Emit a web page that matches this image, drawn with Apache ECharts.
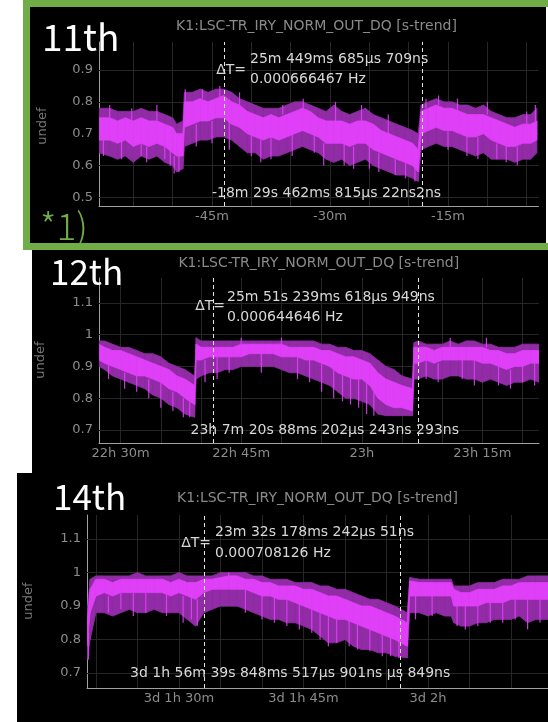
<!DOCTYPE html>
<html><head><meta charset="utf-8">
<script src="https://cdn.jsdelivr.net/npm/echarts@6/dist/echarts.min.js"></script>
<style>html,body{margin:0;padding:0;background:#fff}#c{width:548px;height:722px}</style>
</head><body><div id="c"></div>
<script>
// ---------- Panel 1 (11th): minutes relative to cursor ----------
const p1Time = [-59.36,-58,-57,-56,-55,-54,-53,-52,-51,-50,-49.5,-48.7,-48.5,-47.5,-46.5,-45.5,-44.5,-43.5,-42.5,-41.5,-40.5,-39.5,-38.5,-37.5,-36.5,-35.5,-34.5,-33.5,-32.5,-31.5,-30.5,-29.5,-28.5,-27.5,-26.5,-25.5,-24.5,-23.5,-22.5,-21.5,-20.5,-19.5,-18.8,-18.4,-17.5,-16.5,-15.5,-14.5,-13.5,-12.5,-11.5,-10.5,-9.5,-8.5,-7.5,-6.5,-5.5,-4.5,-3.7];
const p1OuterLo = [.64,.63,.62,.63,.61,.63,.62,.63,.61,.60,.58,.59,.66,.67,.68,.68,.69,.69,.68,.66,.64,.64,.62,.63,.63,.64,.65,.66,.65,.64,.62,.61,.62,.60,.61,.62,.60,.59,.58,.57,.57,.56,.55,.65,.66,.67,.66,.66,.65,.64,.63,.64,.62,.62,.62,.61,.62,.62,.64];
const p1Lo      = [.68,.68,.67,.68,.66,.67,.66,.67,.66,.64,.63,.63,.72,.73,.74,.74,.75,.75,.73,.72,.70,.69,.68,.69,.68,.69,.70,.71,.70,.69,.67,.67,.67,.66,.67,.67,.65,.64,.63,.62,.61,.60,.58,.70,.71,.72,.71,.71,.70,.69,.69,.70,.68,.67,.66,.66,.67,.67,.68];
const p1Hi      = [.75,.75,.74,.75,.74,.75,.74,.74,.73,.72,.70,.70,.80,.80,.81,.80,.81,.82,.80,.79,.77,.76,.75,.76,.75,.76,.77,.78,.77,.75,.74,.74,.74,.73,.74,.74,.73,.71,.70,.69,.68,.67,.65,.77,.78,.79,.78,.78,.77,.76,.76,.76,.75,.74,.73,.72,.73,.73,.74];
const p1OuterHi = [.78,.78,.77,.77,.77,.78,.77,.77,.76,.75,.73,.74,.83,.83,.84,.83,.84,.84,.83,.81,.80,.79,.78,.78,.78,.79,.80,.80,.79,.78,.77,.79,.77,.76,.77,.78,.76,.75,.74,.73,.72,.71,.70,.79,.80,.81,.80,.80,.79,.79,.78,.79,.77,.76,.75,.75,.76,.76,.78];
// spikes: [time, band edge, tip]
const p1Spikes = [[-58.8,.68,.63],[-58,.75,.79],[-56.5,.68,.62],[-55.2,.74,.78],[-54,.67,.63],[-53.3,.66,.61],[-52,.74,.79],[-51,.66,.62],[-50.3,.65,.60],[-49.8,.63,.575],[-49.2,.63,.58],[-48.4,.80,.84],[-47,.73,.66],[-46.2,.81,.84],[-45,.74,.67],[-44,.81,.85],[-42.8,.74,.65],[-41.5,.79,.83],[-40,.70,.63],[-38.8,.68,.61],[-37.5,.69,.62],[-36,.76,.79],[-34.8,.70,.63],[-33.4,.78,.81],[-32,.70,.64],[-30.8,.67,.60],[-29.3,.74,.80],[-28.2,.67,.60],[-27,.66,.59],[-26,.74,.79],[-25,.67,.59],[-23.8,.64,.58],[-22.6,.70,.76],[-21.7,.62,.57],[-20.4,.61,.56],[-19.2,.60,.55],[-17.8,.78,.81],[-16.2,.79,.82],[-15,.71,.65],[-13.8,.77,.81],[-12.6,.69,.63],[-11.2,.69,.62],[-10,.76,.80],[-8.8,.67,.62],[-7.6,.66,.61],[-6.2,.66,.60],[-5,.73,.77],[-3.9,.74,.79]];
const p1XTicks = [-45,-30,-15];
const p1XLabels = ['-45m','-30m','-15m'];
const p1YTicks = [0.5,0.6,0.7,0.8,0.9];
const p1Cursors = [-43.47,-18.31];

// ---------- Panel 2 (12th): minutes after 22h ----------
const p2Time = [27.31,28,29,30,31,32,33,34,35,36,37,38,39.2,39.4,40,41,42,43,44,45,46,47,48,49,50,51,52,53,54,55,56,57,58,59,60,61,62,63,64,65,66.3,66.5,67,68,69,70,71,72,73,74,75,76,77,78,79,80,81,82.04];
const p2OuterLo = [.90,.89,.87,.86,.85,.84,.83,.81,.80,.78,.77,.75,.74,.86,.87,.88,.88,.89,.89,.90,.90,.90,.90,.90,.89,.88,.88,.87,.86,.85,.84,.82,.80,.80,.79,.78,.75,.745,.745,.745,.745,.86,.86,.87,.86,.86,.87,.87,.86,.86,.85,.86,.85,.84,.85,.85,.86,.85];
const p2Lo      = [.92,.91,.90,.89,.88,.87,.87,.86,.85,.83,.82,.80,.78,.92,.92,.93,.93,.93,.93,.93,.94,.94,.94,.94,.93,.93,.93,.92,.92,.91,.90,.88,.87,.86,.86,.84,.80,.78,.77,.77,.76,.91,.91,.92,.91,.92,.92,.92,.92,.92,.91,.91,.90,.89,.90,.90,.91,.91];
const p2Hi      = [.97,.96,.95,.95,.94,.93,.92,.91,.90,.89,.87,.86,.84,.97,.96,.96,.96,.96,.96,.97,.97,.97,.97,.97,.97,.96,.96,.96,.96,.95,.95,.94,.93,.93,.92,.91,.88,.86,.85,.84,.83,.96,.96,.96,.95,.96,.96,.96,.96,.96,.96,.95,.95,.94,.94,.95,.95,.95];
const p2OuterHi = [.98,.98,.97,.96,.96,.95,.94,.94,.93,.91,.90,.89,.87,.99,.98,.98,.98,.98,.98,.98,.98,.98,.98,.98,.98,.98,.98,.98,.98,.97,.97,.96,.96,.95,.95,.94,.92,.90,.89,.87,.86,.975,.98,.97,.97,.97,.98,.97,.98,.98,.97,.97,.96,.96,.96,.97,.97,.97];
const p2Spikes = [[28.5,.91,.86],[30.5,.88,.83],[32,.87,.82],[33.5,.86,.80],[35,.85,.77],[36.5,.82,.76],[37.8,.80,.74],[38.6,.79,.74],[40.5,.92,.85],[42,.93,.86],[43.5,.93,.88],[45,.97,.99],[47.5,.94,.88],[50,.97,.99],[52,.93,.86],[53.5,.92,.85],[55,.91,.82],[56.5,.89,.80],[57.6,.88,.79],[58.6,.87,.78],[59.6,.86,.77],[60.6,.85,.75],[61.5,.82,.745],[68,.92,.86],[69.5,.91,.85],[71,.96,.99],[72.5,.92,.86],[74,.92,.84],[75.5,.96,.99],[77,.90,.84],[78.5,.89,.83],[80,.90,.85],[81.5,.91,.84]];
const p2XTicks = [30,45,60,75];
const p2XLabels = ['22h 30m','22h 45m','23h','23h 15m'];
const p2YTicks = [0.7,0.8,0.9,1,1.1];
const p2Cursors = [41.49,67.05];

// ---------- Panel 3 (14th): minutes after 3d 1h ----------
const p3Time = [18.92,19.3,20,21,22,23,24,25,26,27,28,29,30,31,32,33,34,35,36,37,38,39,40,41,42,43,44,45,46,47,48,49,50,51,52,53,54,55,56,57.5,57.8,59,60,61,62,62.8,63.1,64,65,66,67,68,69,70,71,72,73,74.46];
const p3OuterLo = [.74,.80,.88,.88,.87,.88,.89,.88,.88,.89,.88,.88,.88,.86,.84,.88,.89,.90,.90,.90,.89,.88,.87,.86,.86,.85,.85,.84,.83,.81,.79,.79,.80,.78,.77,.77,.76,.76,.75,.745,.88,.88,.87,.88,.87,.87,.85,.84,.84,.85,.85,.86,.86,.86,.87,.85,.86,.86];
const p3Lo      = [.78,.88,.93,.94,.93,.94,.94,.94,.94,.94,.94,.93,.94,.93,.92,.94,.95,.95,.95,.95,.95,.94,.93,.93,.92,.92,.91,.90,.89,.88,.87,.86,.86,.85,.84,.83,.82,.81,.80,.78,.93,.93,.93,.93,.93,.93,.90,.90,.90,.90,.91,.91,.91,.92,.92,.92,.92,.92];
const p3Hi      = [.85,.95,.98,.98,.97,.98,.98,.98,.98,.98,.98,.97,.98,.97,.97,.98,.98,.985,.99,.99,.98,.98,.97,.97,.96,.96,.96,.95,.95,.94,.93,.93,.92,.91,.90,.90,.89,.88,.87,.85,.975,.97,.97,.97,.97,.97,.95,.94,.94,.95,.95,.95,.96,.96,.97,.97,.97,.97];
const p3OuterHi = [.88,.98,.99,.99,.99,.99,.99,1.00,.99,.99,.99,.99,1.00,.99,.99,.99,.99,1.00,1.00,1.00,1.00,.99,.99,.98,.98,.98,.97,.97,.97,.96,.96,.95,.95,.94,.93,.92,.92,.91,.90,.88,.985,.98,.98,.98,.98,.98,.96,.96,.96,.97,.97,.97,.98,.98,.98,.99,.99,.99];
const p3Spikes = [[19.1,.82,.74],[21.5,.93,.88],[23,.94,.89],[24.5,.94,.87],[26,.94,.88],[28.5,.94,.87],[30.5,.93,.85],[31.5,.93,.86],[32.2,.92,.84],[36,.99,1.0],[38,.95,.88],[40,.93,.86],[41.5,.93,.85],[43,.92,.84],[44.5,.91,.83],[46,.89,.82],[47,.88,.80],[48,.87,.78],[49,.86,.79],[50.5,.86,.78],[51.5,.85,.77],[53,.83,.765],[54.5,.82,.75],[55.5,.81,.75],[56.5,.80,.745],[58.5,.93,.86],[60.5,.93,.87],[63.5,.90,.84],[64.5,.90,.83],[66,.90,.84],[67.5,.91,.85],[69,.91,.85],[70.5,.92,.86],[72,.92,.83],[73.5,.92,.85]];
const p3XTicks = [30,45,60];
const p3XLabels = ['3d 1h 30m','3d 1h 45m','3d 2h'];
const p3YTicks = [0.7,0.8,0.9,1,1.1];
const p3Cursors = [33.01,56.63];

const panels = [
  {grid:{left:99,top:42,width:439.5,height:164}, xMin:-59.36, xMax:-3.5, yMin:0.473, yMax:0.988,
   t:p1Time, olo:p1OuterLo, lo:p1Lo, hi:p1Hi, ohi:p1OuterHi, sp:p1Spikes, xt:p1XTicks, xl:p1XLabels, yt:p1YTicks, cur:p1Cursors},
  {grid:{left:99,top:278,width:440,height:165}, xMin:27.31, xMax:82.04, yMin:0.659, yMax:1.178,
   t:p2Time, olo:p2OuterLo, lo:p2Lo, hi:p2Hi, ohi:p2OuterHi, sp:p2Spikes, xt:p2XTicks, xl:p2XLabels, yt:p2YTicks, cur:p2Cursors},
  {grid:{left:87,top:515,width:461,height:173}, xMin:18.92, xMax:74.46, yMin:0.655, yMax:1.172,
   t:p3Time, olo:p3OuterLo, lo:p3Lo, hi:p3Hi, ohi:p3OuterHi, sp:p3Spikes, xt:p3XTicks, xl:p3XLabels, yt:p3YTicks, cur:p3Cursors}
];

const TICK = '#8c8c8c', AXIS = '#a0a0a0', GRIDC = '#262626';
const MAG = '#e03ff8', MAG_DARK = '#912ca6';
const FONT = 'DejaVu Sans';

function band(i, t, lo, hi, color, z) {
  const data = [];
  for (let k = 0; k < t.length - 1; k++) data.push([t[k], lo[k], hi[k], t[k+1], lo[k+1], hi[k+1]]);
  return {
    type:'custom', xAxisIndex:i, yAxisIndex:i, coordinateSystem:'cartesian2d', clip:true, silent:true, z:z,
    encode:{x:[0,3], y:[1,2,4,5]}, data:data,
    renderItem:function(params, api){
      const a = api.coord([api.value(0), api.value(1)]);
      const b = api.coord([api.value(3), api.value(4)]);
      const c = api.coord([api.value(3), api.value(5)]);
      const d = api.coord([api.value(0), api.value(2)]);
      return {type:'polygon', shape:{points:[a,b,c,d]}, style:{fill:color, stroke:color, lineWidth:0.8}};
    }
  };
}
function spikes(i, sp) {
  return {
    type:'custom', xAxisIndex:i, yAxisIndex:i, coordinateSystem:'cartesian2d', clip:true, silent:true, z:4,
    encode:{x:0, y:[1,2]}, data:sp,
    renderItem:function(params, api){
      const a = api.coord([api.value(0), api.value(1)]);
      const b = api.coord([api.value(0), api.value(2)]);
      return {type:'line', shape:{x1:a[0], y1:a[1], x2:b[0], y2:b[1]}, style:{stroke:MAG, lineWidth:1.2, opacity:0.9}};
    }
  };
}

const grids = [], xAxes = [], yAxes = [], series = [];
panels.forEach(function(p, i){
  grids.push(Object.assign({containLabel:false}, p.grid));
  xAxes.push({gridIndex:i, type:'value', min:p.xMin, max:p.xMax,
    axisLine:{show:true, onZero:false, lineStyle:{color:AXIS, width:1}}, axisTick:{show:false}, splitLine:{show:false},
    axisLabel:{customValues:p.xt, formatter:function(v){ return p.xl[p.xt.indexOf(v)]; }, color:TICK, fontSize:13, fontFamily:FONT, margin:4}});
  yAxes.push({gridIndex:i, type:'value', min:p.yMin, max:p.yMax,
    axisLine:{show:true, onZero:false, lineStyle:{color:AXIS, width:1}}, axisTick:{show:false}, splitLine:{show:false},
    axisLabel:{customValues:p.yt, formatter:function(v){ return String(Math.round(v*10)/10); }, color:TICK, fontSize:13, fontFamily:FONT, margin:6}});
  const gl = [];
  for (let v = Math.ceil(p.xMin/5)*5; v <= p.xMax; v += 5) gl.push({xAxis:v});
  p.yt.forEach(function(v){ gl.push({yAxis:v}); });
  series.push({type:'line', xAxisIndex:i, yAxisIndex:i, data:[[p.xMin, p.yMin]], symbol:'none', lineStyle:{width:0}, z:1, silent:true,
    markLine:{z:1, silent:true, symbol:['none','none'], label:{show:false}, lineStyle:{color:GRIDC, width:1, type:'solid'}, data:gl, animation:false}});
  series.push(band(i, p.t, p.olo, p.ohi, MAG_DARK, 2));
  series.push(band(i, p.t, p.lo, p.hi, MAG, 3));
  series.push(spikes(i, p.sp));
  series.push({type:'line', xAxisIndex:i, yAxisIndex:i, data:[[p.xMin, p.yMin]], symbol:'none', lineStyle:{width:0}, z:6, silent:true,
    markLine:{z:6, silent:true, symbol:['none','none'], label:{show:false}, lineStyle:{color:'#e6e6e6', width:1, type:[4,3]},
      data:p.cur.map(function(c){ return {xAxis:c}; }), animation:false}});
});

function txt(x, y, s, o) {
  return Object.assign({type:'text', x:x, y:y, z:100, silent:true,
    style:Object.assign({text:s, fill:'#d8d8d8', font:'14px "DejaVu Sans"', textAlign:'left', textVerticalAlign:'middle'}, o || {})});
}
const graphics = [
  {type:'rect', z:-20, shape:{x:23,y:0,width:525,height:250}, style:{fill:'#70ad47'}},
  {type:'rect', z:-19, shape:{x:30,y:7,width:516,height:236}, style:{fill:'#000'}},
  {type:'rect', z:-19, shape:{x:546,y:7,width:2,height:236}, style:{fill:'#fff'}},
  {type:'rect', z:-19, shape:{x:32,y:250,width:516,height:223}, style:{fill:'#000'}},
  {type:'rect', z:-19, shape:{x:17,y:473,width:531,height:249}, style:{fill:'#000'}},
  // panel 1
  txt(316.5, 26, 'K1:LSC-TR_IRY_NORM_OUT_DQ [s-trend]', {fill:'#8a8a8a', textAlign:'center'}),
  txt(246, 70, 'ΔT=', {textAlign:'right'}),
  txt(250, 59, '25m 449ms 685µs 709ns'),
  txt(250, 79, '0.000666467 Hz'),
  txt(212, 193, '-18m 29s 462ms 815µs 22ns2ns'),
  {type:'text', x:43, y:126, rotation:Math.PI/2, z:100, silent:true, style:{text:'undef', fill:'#777', font:'13px "DejaVu Sans"', textAlign:'center', textVerticalAlign:'middle'}},
  txt(42, 37, '11th', {fill:'#fff', font:'37px "Noto Sans CJK JP"'}),
  txt(40, 226, '*1)', {fill:'#70ad47', font:'300 37px "Noto Sans CJK JP"'}),
  // panel 2
  txt(318.8, 263, 'K1:LSC-TR_IRY_NORM_OUT_DQ [s-trend]', {fill:'#8a8a8a', textAlign:'center'}),
  txt(225, 306, 'ΔT=', {textAlign:'right'}),
  txt(227, 297, '25m 51s 239ms 618µs 949ns'),
  txt(227, 317, '0.000644646 Hz'),
  txt(190.5, 430, '23h 7m 20s 88ms 202µs 243ns 293ns'),
  {type:'text', x:41, y:360, rotation:Math.PI/2, z:100, silent:true, style:{text:'undef', fill:'#777', font:'13px "DejaVu Sans"', textAlign:'center', textVerticalAlign:'middle'}},
  txt(50, 272, '12th', {fill:'#fff', font:'35px "Noto Sans CJK JP"'}),
  // panel 3
  txt(317.5, 498, 'K1:LSC-TR_IRY_NORM_OUT_DQ [s-trend]', {fill:'#8a8a8a', textAlign:'center'}),
  txt(211, 543, 'ΔT=', {textAlign:'right'}),
  txt(215, 532, '23m 32s 178ms 242µs 51ns'),
  txt(215, 553, '0.000708126 Hz'),
  txt(130, 673, '3d 1h 56m 39s 848ms 517µs 901ns µs 849ns'),
  {type:'text', x:29, y:601, rotation:Math.PI/2, z:100, silent:true, style:{text:'undef', fill:'#777', font:'13px "DejaVu Sans"', textAlign:'center', textVerticalAlign:'middle'}},
  txt(53, 497, '14th', {fill:'#fff', font:'35px "Noto Sans CJK JP"'})
];

const chart = echarts.init(document.getElementById('c'), null, {renderer:'canvas'});
chart.setOption({
  animation:false,
  backgroundColor:'#ffffff',
  grid:grids, xAxis:xAxes, yAxis:yAxes, series:series,
  graphic:{elements:graphics}
});
</script></body></html>
